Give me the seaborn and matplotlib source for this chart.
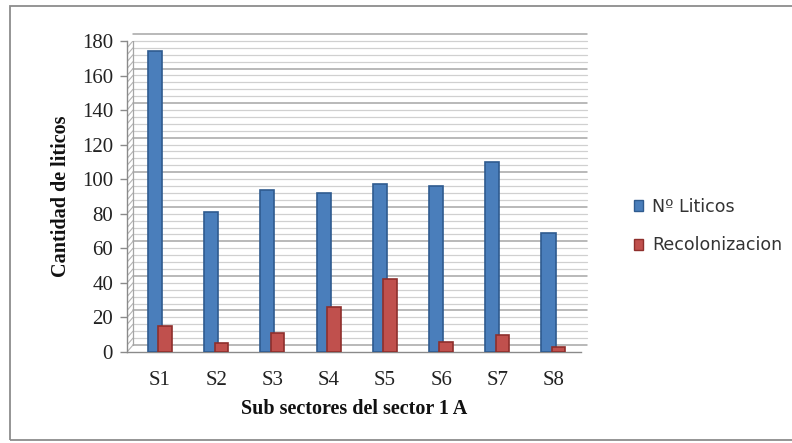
import numpy as np
import pandas as pd
import matplotlib
matplotlib.use("Agg")
import matplotlib.pyplot as plt
import matplotlib.transforms as mtransforms
from matplotlib.patches import Rectangle
import seaborn as sns

# Data
sectores = ["S1", "S2", "S3", "S4", "S5", "S6", "S7", "S8"]
n_liticos = [174, 81, 94, 92, 97, 96, 110, 69]
recolonizacion = [15, 5, 11, 26, 42, 6, 10, 3]
series_names = ["Nº Liticos", "Recolonizacion"]
y_ticks = [0, 20, 40, 60, 80, 100, 120, 140, 160, 180]

blue = "#4a7ebb"
red = "#c0504d"
blue_edge = "#2f5b8f"
red_edge = "#8e2f2c"

df = pd.DataFrame({
    "sector": sectores * 2,
    "valor": n_liticos + recolonizacion,
    "serie": [series_names[0]] * len(sectores) + [series_names[1]] * len(sectores),
})

sns.set_theme(style="white")
plt.rcParams["font.family"] = ["Liberation Serif", "DejaVu Serif"]

fig = plt.figure(figsize=(7.92, 4.43), dpi=100)
W, H = 792, 443
ax = fig.add_axes([127 / W, (H - 352) / H, (581 - 127) / W, (352 - 41) / H])

sns.barplot(data=df, x="sector", y="valor", hue="serie", order=sectores,
            hue_order=series_names, palette=[blue, red], width=0.36,
            saturation=1, ax=ax, legend=False, zorder=3)

# widen the bars a bit so that the two series overlap slightly
for i, p in enumerate(ax.patches):
    c = p.get_x() + p.get_width() / 2
    w = 0.25 if i < len(sectores) else 0.24
    p.set_x(c - w / 2)
    p.set_width(w)
    p.set_edgecolor(blue_edge if i < len(sectores) else red_edge)
    p.set_linewidth(1.2)

ax.set_ylim(0, 180)
ax.set_xlim(-0.588, 7.488)

# back wall with gridlines, shifted up/right to give a sense of depth
dx, dy = 6 / 100, 7 / 100
shift = mtransforms.ScaledTranslation(dx, dy, fig.dpi_scale_trans)
trans_wall = ax.get_yaxis_transform() + shift
trans_side = ax.get_yaxis_transform()
for v in np.arange(0, 181, 4):
    major = v % 20 == 0
    col = "#a5a5a5" if major else "#d0d0d0"
    lw = 1.1 if major else 0.9
    ax.plot([0, 1], [v, v], transform=trans_wall, color=col, lw=lw,
            zorder=1, clip_on=False)
    # slanted side-wall segment
    p0 = trans_side.transform((0, v))
    p1 = trans_wall.transform((0, v))
    ax.add_line(plt.Line2D([p0[0], p1[0]], [p0[1], p1[1]], transform=None,
                           color="#b5b5b5", lw=0.8, zorder=1))
# wall edges
p_top = trans_wall.transform((0, 180))
p_bot = trans_wall.transform((0, 0))
ax.add_line(plt.Line2D([p_bot[0], p_top[0]], [p_bot[1], p_top[1]], transform=None,
                       color="#a5a5a5", lw=0.9, zorder=1))

for s in ["top", "right"]:
    ax.spines[s].set_visible(False)
ax.spines["left"].set_color("#8a8a8a")
ax.spines["bottom"].set_color("#8a8a8a")
ax.spines["left"].set_linewidth(1)
ax.spines["bottom"].set_linewidth(1)

ax.set_yticks(y_ticks)
ax.set_yticklabels([str(t) for t in y_ticks])
ax.tick_params(axis="y", which="both", left=True, length=5, width=1,
               color="#8a8a8a", labelsize=15, pad=5, labelcolor="#222222")
ax.tick_params(axis="x", bottom=False, labelsize=15, pad=8, labelcolor="#222222")

ax.set_xlabel("Sub sectores del sector 1 A", fontsize=14.5, fontweight="bold",
              labelpad=6, color="#111111")
ax.set_ylabel("Cantidad de liticos", fontsize=14.5, fontweight="bold",
              labelpad=8, color="#111111")

# legend
handles = [Rectangle((0, 0), 1, 1, facecolor=blue, edgecolor=blue_edge),
           Rectangle((0, 0), 1, 1, facecolor=red, edgecolor=red_edge)]
leg = fig.legend(handles, series_names, loc="center left",
                 bbox_to_anchor=(618 / W, 1 - 226 / H), frameon=False,
                 prop={"family": "DejaVu Sans", "size": 12.5},
                 handlelength=0.55, handleheight=0.55, handletextpad=0.5,
                 labelspacing=1.2)
for t in leg.get_texts():
    t.set_color("#333333")

# outer frame
fig.patches.append(Rectangle((10 / W, 3 / H), 1.2, (440 - 6) / H,
                             transform=fig.transFigure, fill=False,
                             edgecolor="#8c8c8c", lw=1.3))

fig.savefig("out.png", dpi=100)
